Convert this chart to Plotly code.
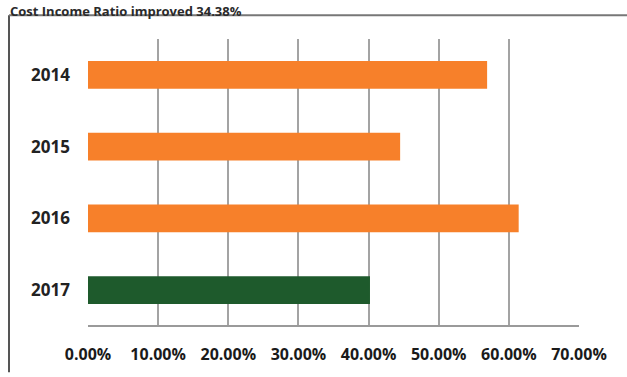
import plotly.graph_objects as go

years = ["2014", "2015", "2016", "2017"]
ratios = [0.569, 0.445, 0.614, 0.402]
colors = ["#F7802A", "#F7802A", "#F7802A", "#1E5A2C"]
tick_vals = [0, 0.1, 0.2, 0.3, 0.4, 0.5, 0.6, 0.7]
tick_text = ["0.00%", "10.00%", "20.00%", "30.00%", "40.00%", "50.00%", "60.00%", "70.00%"]
title_text = "Cost Income Ratio improved 34.38%"

W, H = 627, 377
L, R, T, B = 88, 48, 39, 47

fig = go.Figure(go.Bar(
    x=ratios, y=years, orientation="h",
    marker=dict(color=colors, line=dict(width=0)),
    width=0.39,
))

def px(x):
    return (x - L) / (W - L - R)

def py(y):
    return (H - B - y) / (H - T - B)

fig.update_layout(
    width=W, height=H,
    margin=dict(l=L, r=R, t=T, b=B, pad=0),
    paper_bgcolor="white", plot_bgcolor="white",
    showlegend=False,
    font=dict(family="Open Sans", color="#1a1a1a"),
    xaxis=dict(
        range=[0, 0.7], tickvals=tick_vals, ticktext=tick_text,
        showgrid=True, gridcolor="#a3a3a3", gridwidth=1.5,
        zeroline=False, showline=False, ticks="",
        tickfont=dict(size=16, family="Open Sans", color="#1a1a1a", weight="bold"),
        ticklabelstandoff=17,
    ),
    yaxis=dict(
        autorange="reversed", showgrid=False, zeroline=False, ticks="",
        tickfont=dict(size=17, family="Open Sans", color="#222", weight="bold"),
        ticklabelstandoff=17,
    ),
    shapes=[
        # bottom axis line
        dict(type="line", xref="x", yref="paper", x0=0, x1=0.7, y0=0, y1=0,
             line=dict(color="#9a9a9a", width=2)),
        # outer frame: left and top lines
        dict(type="line", xref="paper", yref="paper", x0=px(9), x1=px(9), y0=py(15), y1=py(377),
             line=dict(color="#555", width=2)),
        dict(type="line", xref="paper", yref="paper", x0=px(9), x1=px(627), y0=py(15), y1=py(15),
             line=dict(color="#777", width=2)),
    ],
    annotations=[
        dict(text="<b>" + title_text + "</b>", xref="paper", yref="paper",
             x=px(8), y=py(-1), xanchor="left", yanchor="top", showarrow=False,
             font=dict(size=13, family="Open Sans", color="#2a2a2a")),
    ],
)

fig.write_html("out.html")
